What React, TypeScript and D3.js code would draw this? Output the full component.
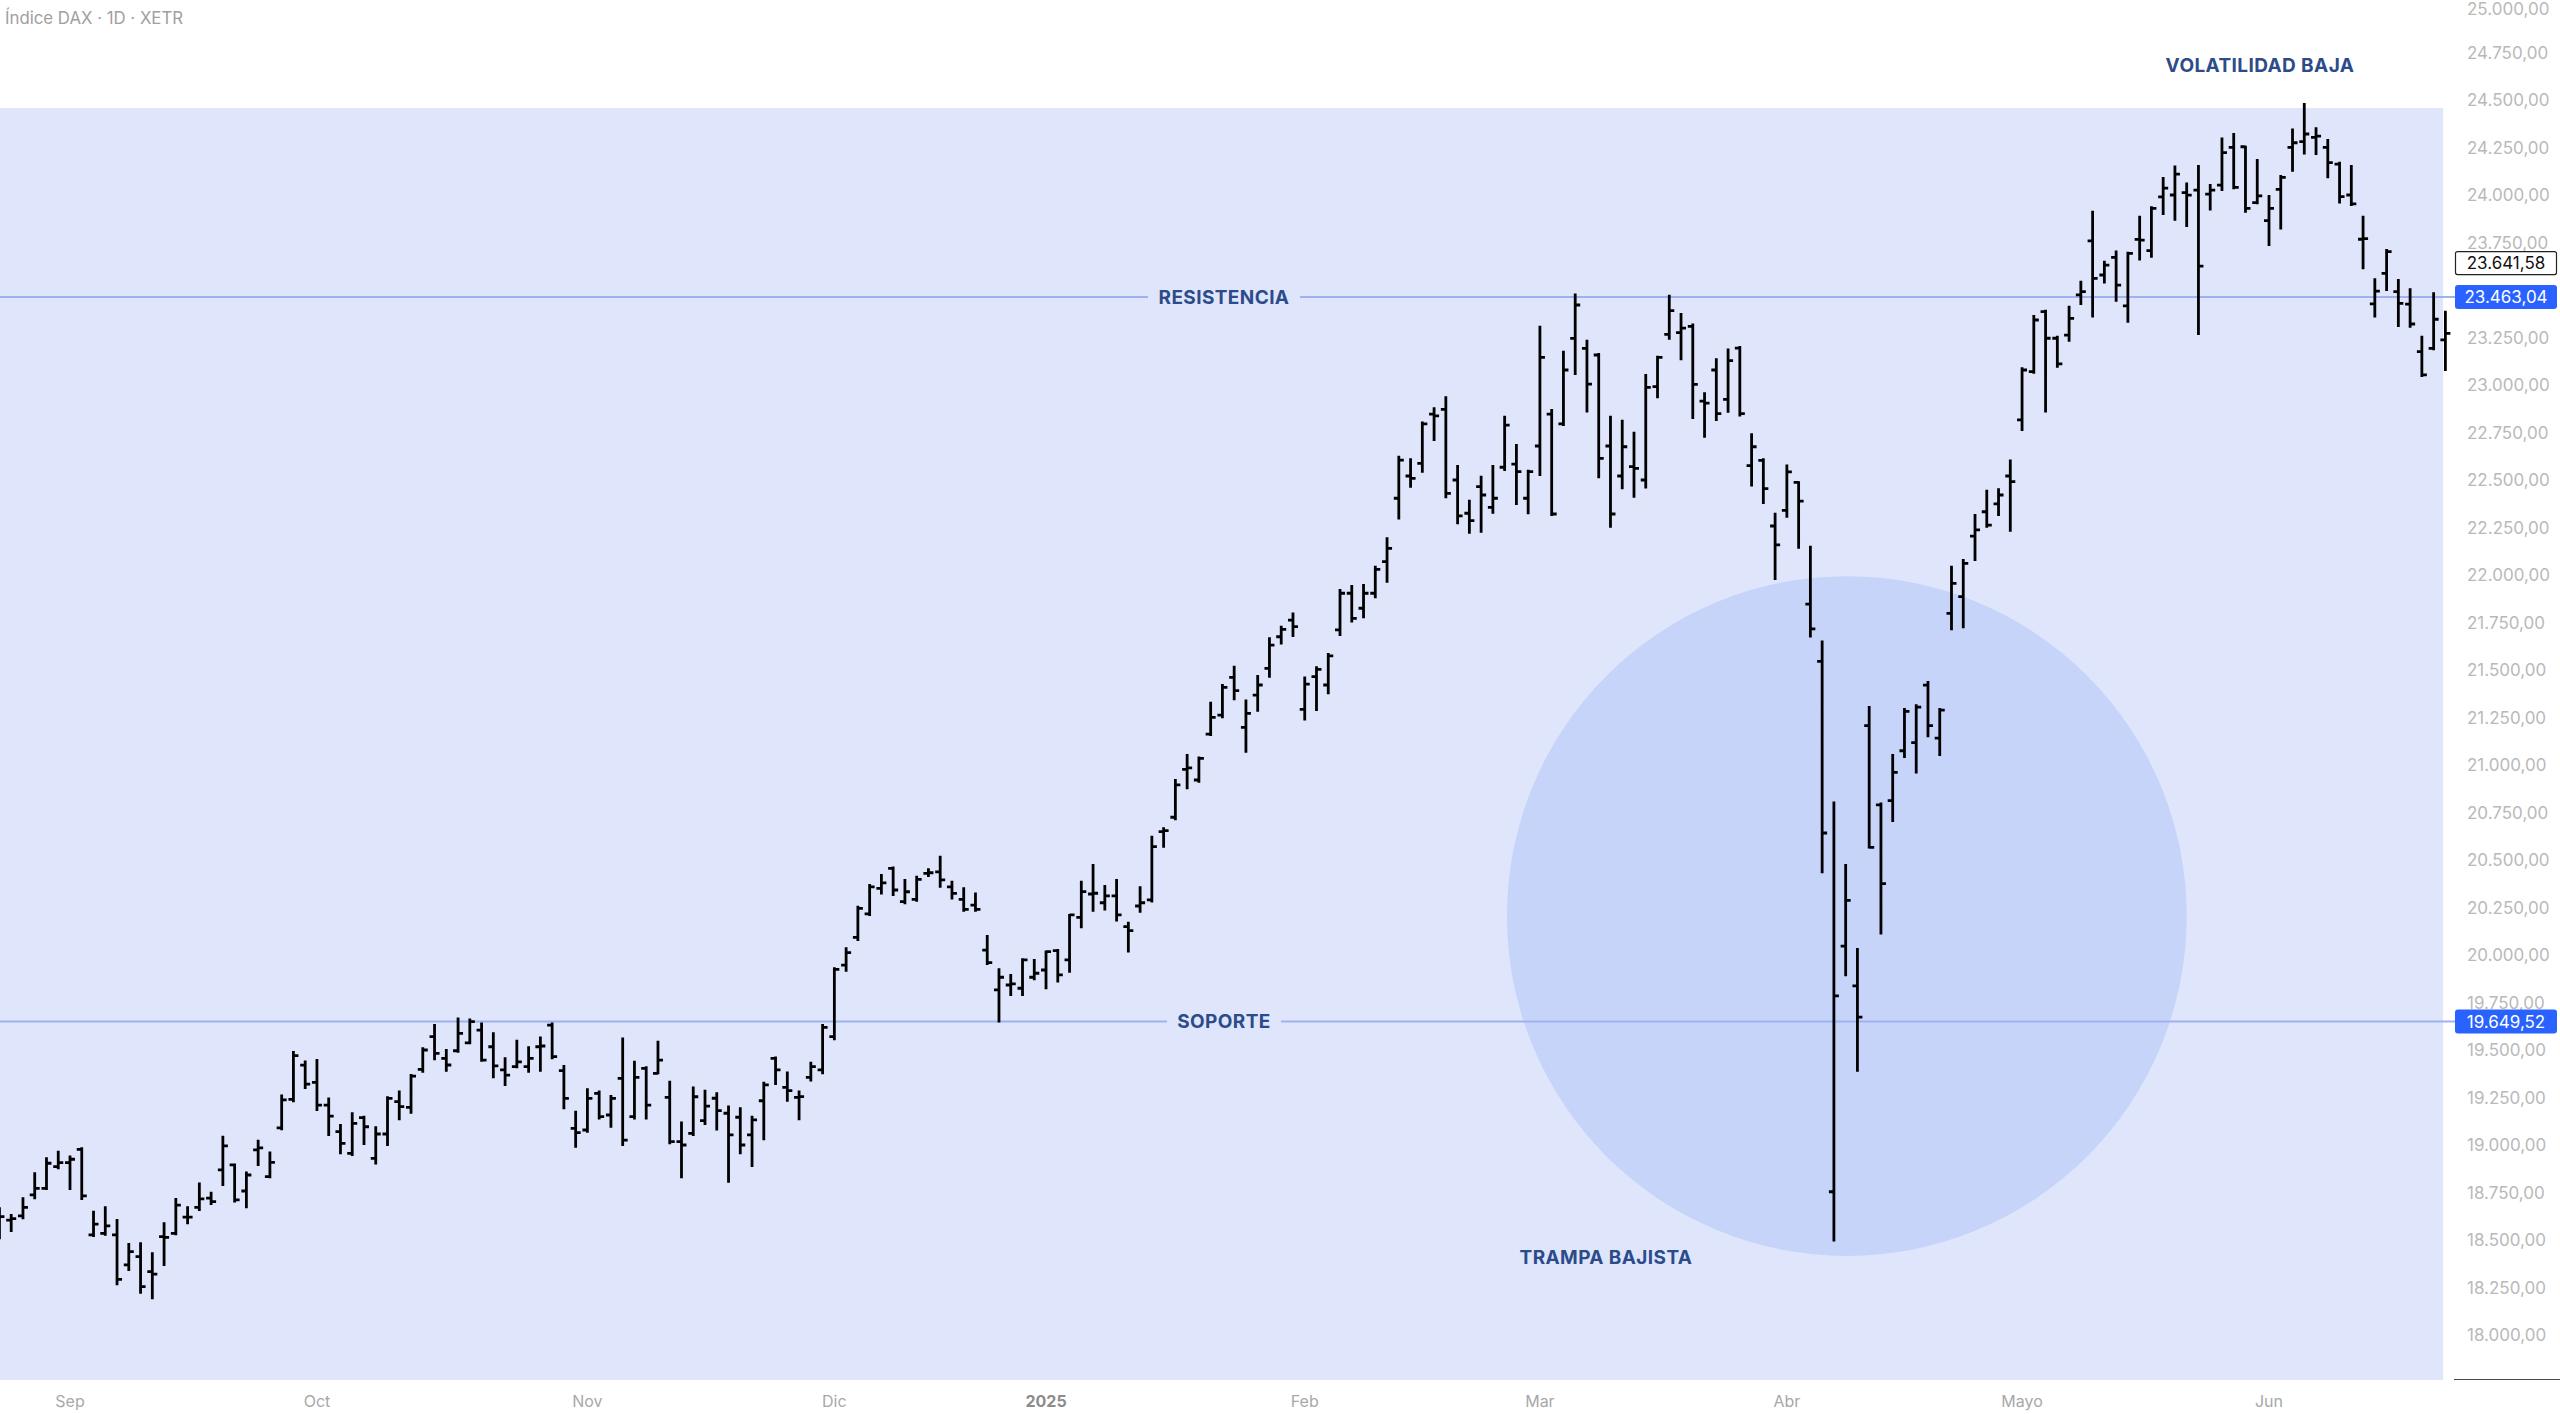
import React from 'react';
import * as d3 from 'd3';

// daily OHLC, index 0 = first session of September (2 Sep 2024); first bar is 6 sessions earlier
const FIRST_INDEX = -6;

const opens = [
  18605, 18605, 18627, 18737, 18772, 18886, 18907, 18977, 18527, 18535,
  18527, 18369, 18413, 18334, 18518, 18535, 18620, 18672, 18720, 18869,
  18895, 18758, 18974, 18834, 19090, 19240, 19420, 19330, 19210, 19070,
  18956, 19144, 18930, 19058, 19228, 19198, 19398, 19570, 19456, 19496,
  19538, 19605, 19517, 19395, 19412, 19412, 19517, 19631, 19391, 19088,
  19079, 19272, 19158, 19351, 19149, 19403, 19377, 19251, 19018, 19061,
  19128, 19246, 19167, 19146, 19053, 19233, 19456, 19303, 19251, 19356,
  19395, 19570, 19947, 20093, 20216, 20351, 20456, 20281, 20293, 20430,
  20438, 20359, 20293, 20263, 20026, 19816, 19842, 19825, 19883, 19921,
  20023, 19974, 20198, 20321, 20275, 20311, 20149, 20258, 20290, 20649,
  20725, 20977, 20921, 21163, 21263, 21461, 21198, 21368, 21509, 21675,
  21763, 21293, 21465, 21421, 21711, 21904, 21825, 21904, 22070, 22404,
  22521, 22588, 22847, 22872, 22500, 22325, 22465, 22356, 22567, 22584,
  22404, 22679, 22847, 22795, 23245, 23193, 23158, 22679, 22521, 22570,
  22500, 22991, 23266, 23276, 23309, 22915, 23079, 22924, 23194, 22576,
  22603, 22258, 22340, 22488, 21847, 21545, 18754, 20047, 19837, 21207,
  20790, 20813, 21075, 21118, 21420, 21141, 21798, 21886, 22205, 22333,
  22374, 22521, 22816, 23070, 23386, 23246, 23263, 23474, 23759, 23579,
  23672, 23416, 23766, 23707, 23990, 24000, 24012, 24026, 24005, 24052,
  24251, 24254, 23960, 23865, 24030, 24251, 24281, 24303, 24251, 24163,
  24000, 23767, 23427, 23588, 23491, 23426, 23176, 23193, 23237,
];

const highs = [
  18667, 18632, 18720, 18851, 18930, 18965, 18939, 18983, 18649, 18672,
  18605, 18479, 18483, 18430, 18588, 18716, 18672, 18798, 18749, 19044,
  18898, 18855, 19023, 18960, 19260, 19490, 19440, 19447, 19245, 19105,
  19167, 19149, 19093, 19251, 19281, 19368, 19509, 19631, 19500, 19666,
  19661, 19640, 19588, 19456, 19549, 19514, 19566, 19640, 19416, 19175,
  19293, 19281, 19258, 19561, 19438, 19409, 19544, 19333, 19118, 19303,
  19286, 19272, 19202, 19193, 19149, 19328, 19461, 19381, 19281, 19433,
  19631, 19930, 20035, 20254, 20368, 20421, 20461, 20395, 20412, 20451,
  20517, 20386, 20351, 20324, 20100, 19925, 19895, 19977, 19974, 20018,
  20026, 20211, 20386, 20474, 20363, 20395, 20170, 20356, 20623, 20667,
  20921, 21053, 21040, 21328, 21421, 21517, 21339, 21468, 21667, 21728,
  21798, 21461, 21514, 21584, 21921, 21942, 21947, 22044, 22193, 22623,
  22609, 22802, 22877, 22935, 22574, 22391, 22517, 22574, 22833, 22684,
  22549, 23307, 22868, 23175, 23476, 23233, 23163, 22833, 22812, 22749,
  23053, 23149, 23470, 23374, 23318, 22957, 23135, 23187, 23200, 22741,
  22609, 22323, 22576, 22488, 22149, 21650, 20803, 20474, 20031, 21305,
  20797, 21053, 21295, 21315, 21437, 21295, 22044, 22079, 22316, 22444,
  22451, 22602, 23088, 23363, 23391, 23254, 23412, 23544, 23912, 23649,
  23702, 23696, 23886, 23935, 24090, 24150, 24060, 24152, 24052, 24298,
  24321, 24254, 24184, 23995, 24100, 24345, 24479, 24351, 24289, 24170,
  24152, 23886, 23556, 23710, 23553, 23504, 23254, 23483, 23386,
];

const lows = [
  18509, 18548, 18614, 18720, 18769, 18877, 18769, 18716, 18521, 18527,
  18267, 18342, 18223, 18193, 18369, 18530, 18588, 18658, 18690, 18790,
  18702, 18672, 18895, 18830, 19083, 19230, 19300, 19184, 19052, 18956,
  18947, 19005, 18903, 19000, 19135, 19170, 19386, 19451, 19391, 19491,
  19535, 19444, 19356, 19316, 19409, 19386, 19391, 19456, 19193, 18991,
  19070, 19140, 19096, 19000, 19140, 19140, 19377, 19009, 18830, 19053,
  19111, 19082, 18807, 18956, 18890, 19030, 19321, 19233, 19135, 19339,
  19377, 19556, 19917, 20079, 20210, 20324, 20316, 20272, 20286, 20416,
  20359, 20298, 20233, 20233, 19953, 19650, 19790, 19790, 19872, 19825,
  19860, 19912, 20146, 20233, 20240, 20181, 20018, 20228, 20281, 20570,
  20714, 20877, 20912, 21158, 21251, 21346, 21070, 21286, 21465, 21640,
  21679, 21240, 21289, 21377, 21684, 21755, 21777, 21883, 21965, 22298,
  22465, 22544, 22710, 22409, 22272, 22223, 22228, 22328, 22553, 22374,
  22325, 22526, 22316, 22789, 23058, 22860, 22514, 22254, 22456, 22412,
  22461, 22935, 23243, 23135, 22826, 22727, 22816, 22859, 22839, 22471,
  22379, 21979, 22307, 22143, 21676, 20435, 18497, 19893, 19391, 20566,
  20113, 20705, 21042, 20961, 21151, 21052, 21714, 21725, 22079, 22254,
  22316, 22233, 22763, 23065, 22860, 23096, 23233, 23426, 23360, 23539,
  23444, 23333, 23661, 23675, 23900, 23870, 23837, 23268, 23924, 24026,
  24035, 23912, 23956, 23737, 23824, 24128, 24219, 24216, 24093, 23960,
  23947, 23614, 23360, 23500, 23311, 23307, 23047, 23188, 23079,
];

const closes = [
  18623, 18612, 18672, 18772, 18904, 18907, 18925, 18732, 18584, 18574,
  18293, 18439, 18255, 18320, 18514, 18684, 18620, 18716, 18702, 18995,
  18711, 18842, 18985, 18909, 19238, 19470, 19320, 19210, 19152, 19009,
  19114, 19096, 19058, 19245, 19202, 19363, 19500, 19482, 19421, 19588,
  19649, 19447, 19416, 19368, 19438, 19456, 19521, 19465, 19245, 19065,
  19245, 19149, 19245, 19026, 19356, 19210, 19447, 19018, 19000, 19254,
  19205, 19181, 19053, 19000, 19132, 19316, 19395, 19286, 19255, 19412,
  19619, 19924, 20012, 20245, 20359, 20380, 20342, 20333, 20398, 20433,
  20395, 20324, 20240, 20240, 19960, 19883, 19848, 19974, 19904, 20018,
  19895, 20211, 20334, 20325, 20311, 20211, 20128, 20275, 20570, 20655,
  20895, 20985, 21035, 21251, 21409, 21391, 21272, 21421, 21631, 21714,
  21728, 21426, 21503, 21574, 21904, 21772, 21904, 22030, 22140, 22605,
  22509, 22795, 22837, 22430, 22311, 22286, 22421, 22404, 22789, 22544,
  22544, 23145, 22321, 23079, 23421, 23005, 22614, 22321, 22675, 22561,
  22988, 23145, 23391, 23299, 23003, 22905, 22849, 23128, 22849, 22675,
  22455, 22159, 22543, 22389, 21716, 20642, 19785, 20287, 19673, 20566,
  20376, 20961, 21282, 21305, 21207, 21289, 21956, 22061, 22237, 22263,
  22421, 22491, 23079, 23342, 23246, 23111, 23351, 23491, 23561, 23631,
  23526, 23693, 23763, 23930, 24036, 24110, 23999, 23626, 24026, 24223,
  24040, 23930, 23995, 23930, 24093, 24275, 24321, 24310, 24170, 23991,
  23953, 23770, 23494, 23702, 23430, 23321, 23053, 23346, 23272,
];

// time axis
const monthLabels = ['Sep', 'Oct', 'Nov', 'Dic', '2025', 'Feb', 'Mar', 'Abr', 'Mayo', 'Jun'];
const monthStarts = [0, 21, 44, 65, 83, 105, 125, 146, 166, 187];

// price axis
const priceTicks = d3.range(18000, 25001, 250);
const resistance = 23463.04;
const support = 19649.52;
const markerPrice = 23641.58;

// drawings (in chart units)
const zoneStart = -7;
const zoneEnd = 201.8;
const zoneTop = 24458;
const zoneBottom = 17763;
const trapCenterIndex = 151.1;
const trapCenterPrice = 20205;
const trapRadiusPrice = 1789;

const W = 2560;
const H = 1414;
const FONT = 'Inter, "Noto Sans", sans-serif';

const fmt = d3.formatLocale({ decimal: ',', thousands: '.', grouping: [3], currency: ['', ''] }).format(',.2f');

const App: React.FC = () => {
  const x = d3.scaleLinear().domain([0, 187]).range([70, 2269]);
  const y = d3.scaleLinear().domain([18000, 25000]).range([1335, 5]);

  const bars = opens.map((o, k) => ({
    i: FIRST_INDEX + k,
    o,
    h: highs[k],
    l: lows[k],
    c: closes[k],
  }));

  const tick = 5;
  const barPath = bars
    .map((b) => {
      const bx = x(b.i);
      return `M${bx},${y(b.h) - 1}V${y(b.l) + 1}M${bx - tick},${y(b.o)}H${bx}M${bx},${y(b.c)}H${bx + tick}`;
    })
    .join('');

  const labelX = 1224;
  const lineEnd = 2455;
  const levelLabels = [
    { price: resistance, text: 'RESISTENCIA', w: 132 },
    { price: support, text: 'SOPORTE', w: 94 },
  ];

  // the blue level boxes cover any tick label sitting right behind them
  const visibleTicks = priceTicks.filter((p) => Math.abs(y(p) - y(resistance)) > 9 && Math.abs(y(p) - y(support)) > 9);

  const zoneColor = '#dfe6fc';
  const lineColor = '#9db2ee';
  const noteColor = '#2c4b8a';

  const cx = x(trapCenterIndex);
  const cy = y(trapCenterPrice);
  const r = y(trapCenterPrice - trapRadiusPrice) - cy;

  return (
    <svg
      width={W}
      height={H}
      style={{ position: 'absolute', left: 0, top: 0, display: 'block', background: '#fff' }}
      fontFamily={FONT}
    >
      <rect x={0} y={0} width={W} height={H} fill="#fff" />

      {/* shaded zone */}
      <rect
        x={x(zoneStart)}
        y={y(zoneTop)}
        width={x(zoneEnd) - x(zoneStart)}
        height={y(zoneBottom) - y(zoneTop)}
        fill={zoneColor}
      />
      <circle cx={cx} cy={cy} r={r} fill="#c6d4fa" />

      {/* horizontal levels */}
      {levelLabels.map((d) => (
        <g key={d.text}>
          <line x1={0} x2={labelX - d.w / 2 - 10} y1={y(d.price)} y2={y(d.price)} stroke={lineColor} strokeWidth={2} />
          <line x1={labelX + d.w / 2 + 10} x2={lineEnd} y1={y(d.price)} y2={y(d.price)} stroke={lineColor} strokeWidth={2} />
          <text
            x={labelX}
            y={y(d.price)}
            textAnchor="middle"
            dominantBaseline="central"
            fontSize={19}
            fontWeight={700}
            letterSpacing={0.4}
            fill={noteColor}
          >
            {d.text}
          </text>
        </g>
      ))}

      <text x={1606} y={1257} textAnchor="middle" dominantBaseline="central" fontSize={19} fontWeight={700} letterSpacing={0.4} fill={noteColor}>
        TRAMPA BAJISTA
      </text>
      <text x={2260} y={65} textAnchor="middle" dominantBaseline="central" fontSize={19} fontWeight={700} letterSpacing={0.4} fill={noteColor}>
        VOLATILIDAD BAJA
      </text>

      {/* OHLC bars */}
      <path d={barPath} fill="none" stroke="#000" strokeWidth={2.8} strokeLinecap="butt" />

      {/* title */}
      <text x={5} y={24} fontSize={16.8} fill="#a0a0a0">
        Índice DAX · 1D · XETR
      </text>

      {/* price axis */}
      {visibleTicks.map((p) => (
        <text key={p} x={2467} y={Math.max(y(p), 9)} dominantBaseline="central" fontSize={17} fill="#b9b9b9">
          {fmt(p)}
        </text>
      ))}
      <line x1={2454} x2={W} y1={1379.5} y2={1379.5} stroke="#4a4a4a" strokeWidth={1.2} />

      {/* price labels */}
      <rect x={2455.5} y={y(markerPrice) - 11.5} width={101} height={23} rx={2} fill="#fff" stroke="#222" strokeWidth={1.2} />
      <text x={2506} y={y(markerPrice)} textAnchor="middle" dominantBaseline="central" fontSize={17} fill="#111">
        {fmt(markerPrice)}
      </text>
      {[resistance, support].map((p) => (
        <g key={p}>
          <rect x={2455} y={y(p) - 12} width={102} height={24} rx={3} fill="#2962ff" />
          <text x={2506} y={y(p)} textAnchor="middle" dominantBaseline="central" fontSize={17} fill="#fff">
            {fmt(p)}
          </text>
        </g>
      ))}

      {/* time axis */}
      {monthLabels.map((m, k) => (
        <text
          key={m}
          x={x(monthStarts[k])}
          y={1401}
          textAnchor="middle"
          dominantBaseline="central"
          fontSize={16}
          fontWeight={m === '2025' ? 700 : 400}
          fill={m === '2025' ? '#8c8c8c' : '#a8a8a8'}
        >
          {m}
        </text>
      ))}
    </svg>
  );
};

export default App;
